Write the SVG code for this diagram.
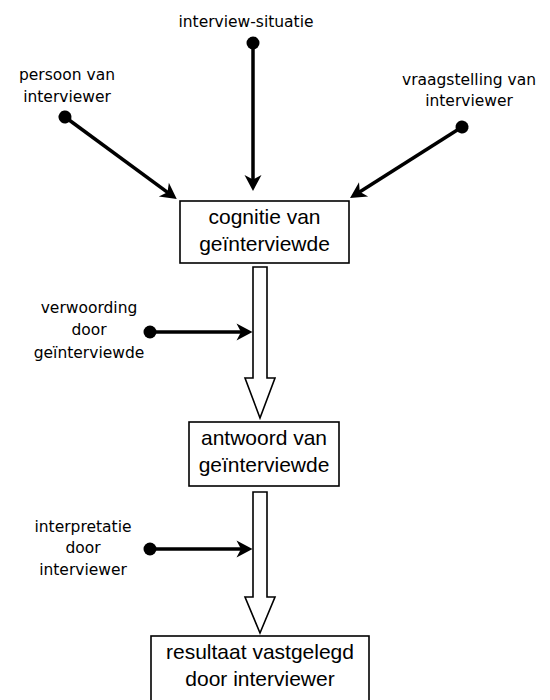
<svg xmlns="http://www.w3.org/2000/svg" width="550" height="700" viewBox="0 0 550 700">
  <style>
    .box { fill: #ffffff; stroke: #000000; stroke-width: 1.6; }
    .boxtext { font-family: "Liberation Sans", Arial, sans-serif; font-size: 21px; fill: #000000; text-anchor: middle; }
    .label { font-family: "DejaVu Sans", Verdana, sans-serif; font-size: 15.5px; fill: #000000; text-anchor: middle; }
    .conn { fill: none; stroke: #000000; stroke-width: 3.5; marker-start: url(#dot); marker-end: url(#head); }
    .block { fill: #ffffff; stroke: #000000; stroke-width: 1.6; stroke-linejoin: miter; }
  </style>
  <defs>
    <marker id="head" markerUnits="userSpaceOnUse" viewBox="0 -9 17 18" refX="8" refY="0" markerWidth="17" markerHeight="18" orient="auto" overflow="visible">
      <path d="M16,0 L0,-8.5 L4.5,0 L0,8.5 Z" fill="#000000"/>
    </marker>
    <marker id="dot" markerUnits="userSpaceOnUse" viewBox="-7 -7 14 14" refX="0" refY="0" markerWidth="14" markerHeight="14" orient="auto" overflow="visible">
      <circle cx="0" cy="0" r="6.5" fill="#000000"/>
    </marker>
  </defs>

  <rect width="550" height="700" fill="#ffffff"/>

  <g id="connectors">
    <!-- persoon van interviewer -> cognitie -->
    <line class="conn" x1="65" y1="117" x2="170.3" y2="194.3"/>
    <!-- interview-situatie -> cognitie -->
    <line class="conn" x1="253" y1="43" x2="253" y2="183"/>
    <!-- vraagstelling -> cognitie -->
    <line class="conn" x1="462" y1="127" x2="356.8" y2="193.7"/>
    <!-- verwoording -> flow arrow 1 -->
    <line class="conn" x1="150" y1="332" x2="244.5" y2="332"/>
    <!-- interpretatie -> flow arrow 2 -->
    <line class="conn" x1="150" y1="549" x2="244.5" y2="549"/>
    <!-- block arrows -->
    <polygon id="flow1" class="block" points="253,267 267,267 267,378 275,378 260,418 245,378 253,378"/>
    <polygon id="flow2" class="block" points="253,492 267,492 267,597 275,597 260,633 245,597 253,597"/>
  </g>

  <g id="node-interview-situatie">
    <text class="label" x="246" y="27">interview-situatie</text>
  </g>
  <g id="node-persoon">
    <text class="label" x="67" y="80">persoon van</text>
    <text class="label" x="67" y="102">interviewer</text>
  </g>
  <g id="node-vraagstelling">
    <text class="label" x="469" y="85">vraagstelling van</text>
    <text class="label" x="469" y="106">interviewer</text>
  </g>

  <g id="node-cognitie">
    <rect class="box" x="180" y="201" width="169" height="62"/>
    <text class="boxtext" x="264.5" y="224">cognitie van</text>
    <text class="boxtext" x="264.5" y="251">geïnterviewde</text>
  </g>

  <g id="node-verwoording">
    <text class="label" x="89" y="313">verwoording</text>
    <text class="label" x="89" y="335">door</text>
    <text class="label" x="89" y="358">geïnterviewde</text>
  </g>

  <g id="node-antwoord">
    <rect class="box" x="189" y="422" width="150" height="64"/>
    <text class="boxtext" x="264" y="445">antwoord van</text>
    <text class="boxtext" x="264" y="472">geïnterviewde</text>
  </g>

  <g id="node-interpretatie">
    <text class="label" x="83" y="532">interpretatie</text>
    <text class="label" x="83" y="553">door</text>
    <text class="label" x="83" y="575">interviewer</text>
  </g>

  <g id="node-resultaat">
    <rect class="box" x="151" y="636" width="218" height="70"/>
    <text class="boxtext" x="260" y="659">resultaat vastgelegd</text>
    <text class="boxtext" x="260" y="686">door interviewer</text>
  </g>
</svg>
